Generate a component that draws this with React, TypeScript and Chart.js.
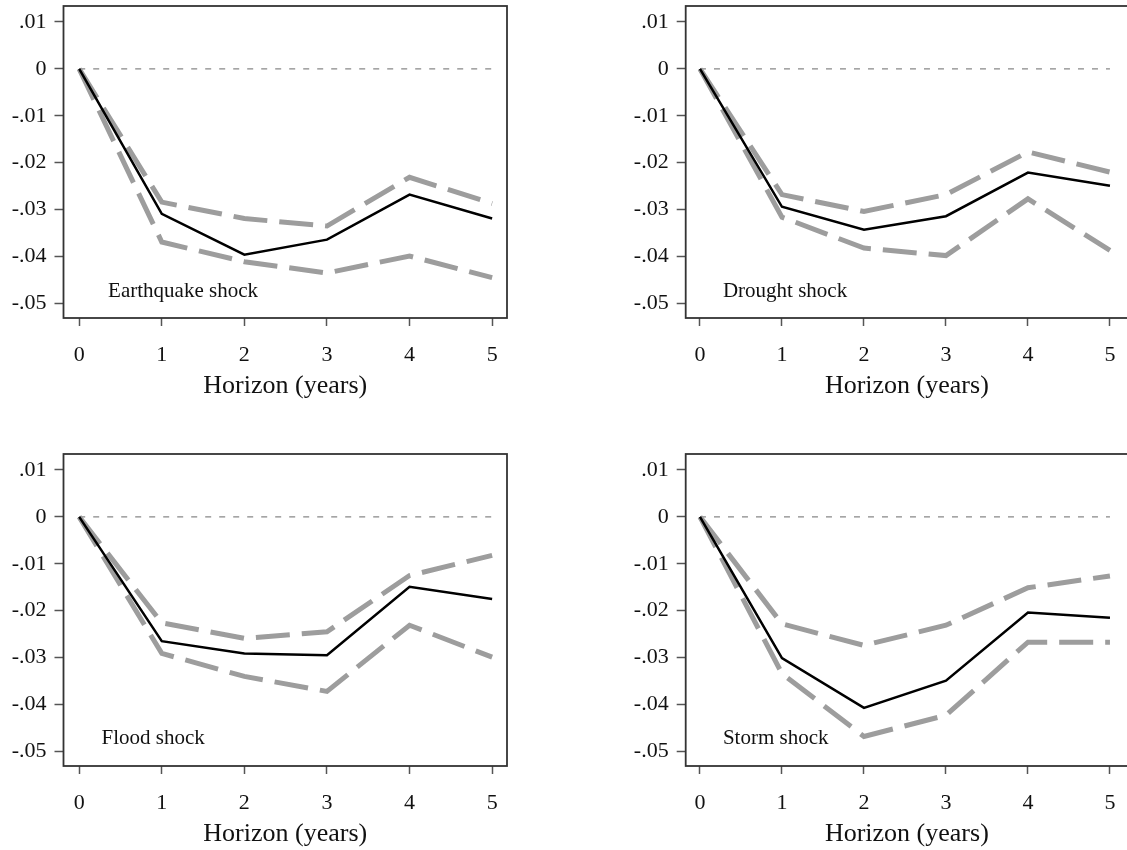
import React, { useEffect, useRef } from "react";
import { Chart, registerables } from "chart.js";

Chart.register(...registerables);

// Horizons (years after the shock) and axis ticks
const horizons = [0, 1, 2, 3, 4, 5];
const yTickValues = [0.01, 0, -0.01, -0.02, -0.03, -0.04, -0.05];
const yTickLabels = [".01", "0", "-.01", "-.02", "-.03", "-.04", "-.05"];
const xAxisTitle = "Horizon (years)";

// Impulse responses with confidence bands
const earthquakeIrf = [0, -0.0309, -0.0396, -0.0364, -0.0268, -0.0319];
const earthquakeUpper = [0, -0.0284, -0.0319, -0.0335, -0.0231, -0.0287];
const earthquakeLower = [0, -0.0369, -0.0411, -0.0435, -0.0399, -0.0445];

const droughtIrf = [0, -0.0294, -0.0343, -0.0314, -0.0221, -0.0249];
const droughtUpper = [0, -0.0268, -0.0304, -0.0268, -0.0177, -0.022];
const droughtLower = [0, -0.0316, -0.0382, -0.0398, -0.0277, -0.0387];

const floodIrf = [0, -0.0265, -0.0291, -0.0295, -0.0149, -0.0175];
const floodUpper = [0, -0.0226, -0.0259, -0.0245, -0.0125, -0.0082];
const floodLower = [0, -0.0291, -0.034, -0.0372, -0.0231, -0.0299];

const stormIrf = [0, -0.0301, -0.0407, -0.0349, -0.0204, -0.0215];
const stormUpper = [0, -0.0228, -0.0274, -0.0231, -0.0151, -0.0126];
const stormLower = [0, -0.0334, -0.0468, -0.0423, -0.0267, -0.0267];

type Panel = {
  label: string;
  irf: number[];
  upper: number[];
  lower: number[];
  col: number;
  row: number;
  labelAt: { x: number; y: number };
};

const panels: Panel[] = [
  { label: "Earthquake shock", irf: earthquakeIrf, upper: earthquakeUpper, lower: earthquakeLower, col: 0, row: 0, labelAt: { x: 0.35, y: -0.0487 } },
  { label: "Drought shock", irf: droughtIrf, upper: droughtUpper, lower: droughtLower, col: 1, row: 0, labelAt: { x: 0.28, y: -0.0487 } },
  { label: "Flood shock", irf: floodIrf, upper: floodUpper, lower: floodLower, col: 0, row: 1, labelAt: { x: 0.27, y: -0.0485 } },
  { label: "Storm shock", irf: stormIrf, upper: stormUpper, lower: stormLower, col: 1, row: 1, labelAt: { x: 0.28, y: -0.0485 } },
];

// Layout of the 2x2 grid
const CANVAS_W = 560;
const CANVAS_H = 425;
const columns = [
  { left: 0, yAxisWidth: 63.5, padRight: 53, xMin: -0.19, xMax: 5.18 },
  { left: 622, yAxisWidth: 63.7, padRight: 54, xMin: -0.174, xMax: 5.22 },
];
const rows = [{ top: 0 }, { top: 448 }];
const FONT = "'Liberation Serif', 'Times New Roman', serif";

const frameAndLabel = {
  id: "frameAndLabel",
  afterDatasetsDraw(chart: any) {
    const { ctx, chartArea } = chart;
    const opts = chart.options.plugins.frameAndLabel;
    ctx.save();
    ctx.strokeStyle = "#333";
    ctx.lineWidth = 1.8;
    ctx.strokeRect(chartArea.left, chartArea.top, chartArea.right - chartArea.left, chartArea.bottom - chartArea.top);
    const xs = chart.scales.x;
    const ys = chart.scales.y;
    ctx.fillStyle = "#111";
    ctx.font = `21px ${FONT}`;
    ctx.textAlign = "left";
    ctx.textBaseline = "alphabetic";
    ctx.fillText(opts.text, xs.getPixelForValue(opts.x), ys.getPixelForValue(opts.y));
    ctx.restore();
  },
};

function PanelChart({ panel }: { panel: Panel }) {
  const ref = useRef<HTMLCanvasElement>(null);
  const col = columns[panel.col];

  useEffect(() => {
    const pts = (vals: number[]) => horizons.map((h, i) => ({ x: h, y: vals[i] }));
    const band = {
      borderColor: "#9d9d9d",
      borderWidth: 5,
      borderDash: [34, 12],
      pointRadius: 0,
      tension: 0,
      fill: false,
    };
    const chart = new Chart(ref.current as HTMLCanvasElement, {
      type: "line",
      data: {
        datasets: [
          { data: pts(panel.irf), borderColor: "#000", borderWidth: 2.5, pointRadius: 0, tension: 0, fill: false },
          { data: pts(panel.upper), ...band },
          { data: pts(panel.lower), ...band },
          {
            data: horizons.map((h) => ({ x: h, y: 0 })),
            borderColor: "#888",
            borderWidth: 1.3,
            borderDash: [6, 8],
            pointRadius: 0,
            fill: false,
          },
        ],
      },
      options: {
        responsive: false,
        animation: false,
        events: [],
        layout: { padding: { left: 0, top: 6, right: col.padRight, bottom: 0 } },
        plugins: {
          legend: { display: false },
          tooltip: { enabled: false },
          frameAndLabel: { text: panel.label, x: panel.labelAt.x, y: panel.labelAt.y },
        } as any,
        scales: {
          x: {
            type: "linear",
            min: col.xMin,
            max: col.xMax,
            border: { display: false },
            grid: { drawOnChartArea: false, drawTicks: true, tickLength: 8, tickColor: "#555", tickWidth: 1.5 },
            ticks: { color: "#111", font: { family: FONT, size: 22 }, padding: 16, callback: (v: any) => String(v) },
            afterBuildTicks: (s: any) => {
              s.ticks = horizons.map((h) => ({ value: h }));
            },
            afterFit: (s: any) => {
              s.height = CANVAS_H - 318;
              s.paddingLeft = 0;
              s.paddingRight = 0;
            },
            title: {
              display: true,
              text: xAxisTitle,
              color: "#111",
              font: { family: FONT, size: 26 },
              padding: { top: 0, bottom: 23 },
            },
          },
          y: {
            type: "linear",
            min: -0.0531,
            max: 0.0134,
            border: { display: false },
            grid: { drawOnChartArea: false, drawTicks: true, tickLength: 9, tickColor: "#555", tickWidth: 1.5 },
            ticks: {
              color: "#111",
              font: { family: FONT, size: 22 },
              padding: 8,
              callback: (_v: any, i: number) => yTickLabels[i],
            },
            afterBuildTicks: (s: any) => {
              s.ticks = yTickValues.map((v) => ({ value: v }));
            },
            afterFit: (s: any) => {
              s.width = col.yAxisWidth;
              s.paddingTop = 0;
              s.paddingBottom = 0;
            },
          },
        },
      },
      plugins: [frameAndLabel],
    });
    return () => chart.destroy();
  }, [panel]);

  return (
    <canvas
      ref={ref}
      width={CANVAS_W}
      height={CANVAS_H}
      style={{ position: "absolute", left: col.left, top: rows[panel.row].top, width: CANVAS_W, height: CANVAS_H }}
    />
  );
}

export default function App() {
  return (
    <div
      style={{
        position: "fixed",
        left: 0,
        top: 0,
        width: 1127,
        height: 850,
        overflow: "hidden",
        background: "#fff",
      }}
    >
      {panels.map((p) => (
        <PanelChart key={p.label} panel={p} />
      ))}
    </div>
  );
}
